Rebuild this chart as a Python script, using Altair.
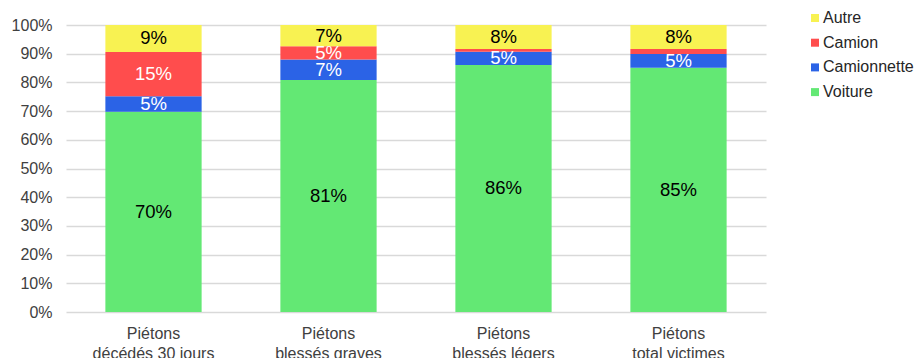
import altair as alt
import pandas as pd

# Share of pedestrian victims by the vehicle type involved (in %)
categories = [
    "Piétons\ndécédés 30 jours",
    "Piétons\nblessés graves",
    "Piétons\nblessés légers",
    "Piétons\ntotal victimes",
]
vehicles = ["Voiture", "Camionnette", "Camion", "Autre"]  # bottom -> top
voiture = [69.8, 80.8, 86.1, 85.1]
camionnette = [5.4, 7.2, 4.6, 4.8]
camion = [15.4, 4.6, 0.9, 1.7]
autre = [9.4, 7.4, 8.4, 8.4]
y_ticks = list(range(0, 101, 10))

colors = {
    "Autre": "#F8F252",
    "Camion": "#FF4D4D",
    "Camionnette": "#2B63E6",
    "Voiture": "#63E874",
}
label_colors = {
    "Voiture": "#000000",
    "Camionnette": "#FFFFFF",
    "Camion": "#FFFFFF",
    "Autre": "#000000",
}

series = {"Voiture": voiture, "Camionnette": camionnette, "Camion": camion, "Autre": autre}
rows = []
for i, cat in enumerate(categories):
    for k, v in enumerate(vehicles):
        rows.append({"cat": cat, "vehicle": v, "rank": k, "value": series[v][i],
                     "lcolor": label_colors[v]})
df = pd.DataFrame(rows)

legend_order = ["Autre", "Camion", "Camionnette", "Voiture"]
FONT = "Liberation Sans"

base = alt.Chart(df).transform_stack(
    stack="value", groupby=["cat"], as_=["y0", "y1"], sort=[alt.SortField("rank", order="ascending")]
).transform_calculate(mid="(datum.y0 + datum.y1) / 2")

x_scale = alt.Scale(paddingInner=0.45, paddingOuter=0.225)
y_scale = alt.Scale(domain=[0, 100], nice=False)

x_axis = alt.Axis(
    labelAngle=0,
    labelExpr="split(datum.label, '\\n')",
    labelFont=FONT,
    labelFontSize=16,
    labelColor="#404040",
    labelLineHeight=20,
    labelPadding=13,
    domain=False,
    ticks=False,
    grid=False,
)
y_axis = alt.Axis(
    values=y_ticks,
    labelExpr="datum.value + '%'",
    labelFont=FONT,
    labelFontSize=16,
    labelColor="#404040",
    labelPadding=14,
    labelOverlap=False,
    domain=False,
    ticks=False,
    grid=True,
    gridColor="#D9D9D9",
    gridWidth=1.3,
)

bars = base.mark_bar().encode(
    x=alt.X("cat:N", sort=categories, title=None, scale=x_scale, axis=x_axis),
    y=alt.Y("y0:Q", title=None, scale=y_scale, axis=y_axis),
    y2="y1:Q",
    color=alt.Color(
        "vehicle:N",
        scale=alt.Scale(domain=legend_order, range=[colors[v] for v in legend_order]),
        legend=alt.Legend(
            title=None,
            orient="none",
            legendX=741,
            legendY=-15,
            padding=0,
            symbolType="square",
            symbolSize=64,
            symbolStrokeWidth=0,
            labelFont=FONT,
            labelFontSize=16,
            labelColor="#262626",
            labelOffset=0,
            rowPadding=8.7,
        ),
    ),
)

labels = base.transform_filter("datum.value >= 3").transform_calculate(
    txt="format(datum.value, '.0f') + '%'"
).mark_text(font=FONT, fontSize=18.5, baseline="middle", align="center").encode(
    x=alt.X("cat:N", sort=categories, title=None, scale=x_scale, axis=x_axis),
    y=alt.Y("mid:Q", title=None, scale=y_scale, axis=y_axis),
    text="txt:N",
    color=alt.Color("lcolor:N", scale=None),
)

chart = (
    alt.layer(bars, labels)
    .properties(
        width=700,
        height=287,
        autosize=alt.AutoSizeParams(type="none"),
        padding={"left": 66, "top": 25, "right": 151, "bottom": 46},
        background="white",
    )
    .configure_view(stroke=None)
)

chart.save("out.html", embed_options={"renderer": "svg", "actions": False})
